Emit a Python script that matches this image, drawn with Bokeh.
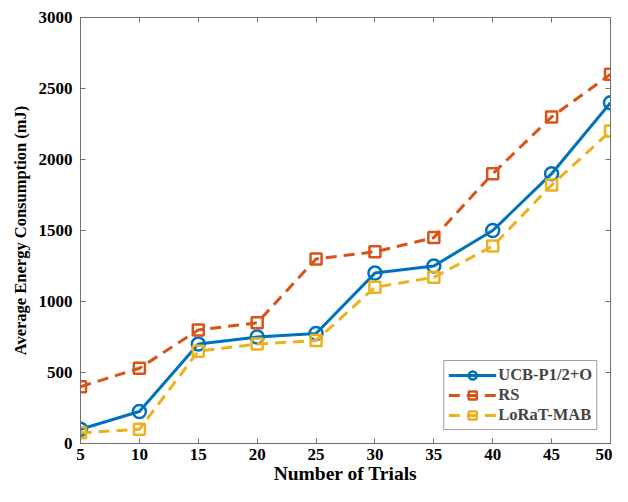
from bokeh.plotting import figure
from bokeh.models import LinearAxis, Range1d, FixedTicker
from bokeh.embed import file_html
from bokeh.resources import INLINE

trials = [5, 10, 15, 20, 25, 30, 35, 40, 45, 50]
ucb = [100, 225, 700, 750, 775, 1200, 1250, 1500, 1900, 2400]
rs = [400, 530, 800, 850, 1300, 1350, 1450, 1900, 2300, 2600]
lorat = [75, 100, 650, 700, 725, 1100, 1170, 1390, 1820, 2200]
x_ticks = [5, 10, 15, 20, 25, 30, 35, 40, 45, 50]
y_ticks = [0, 500, 1000, 1500, 2000, 2500, 3000]

BLUE = "#0072BD"
RED = "#D95319"
YEL = "#EDB120"
FONT = "Liberation Serif"
AXC = "#707070"

p = figure(width=612, height=486, output_backend="svg", toolbar_location=None,
           x_range=Range1d(5, 50), y_range=Range1d(0, 3000),
           min_border_left=80, min_border_right=2, min_border_top=17, min_border_bottom=37)
p.grid.visible = False
p.outline_line_color = AXC
p.outline_line_width = 1

for ax in [p.xaxis[0], p.yaxis[0]]:
    ax.major_tick_in = 5
    ax.major_tick_out = 0
    ax.minor_tick_line_color = None
    ax.axis_line_color = AXC
    ax.major_tick_line_color = AXC
    ax.major_label_text_font = FONT
    ax.major_label_text_font_style = "bold"
    ax.major_label_text_font_size = "17px"
    ax.major_label_text_color = "black"
    ax.axis_label_text_font = FONT
    ax.axis_label_text_font_style = "bold"
    ax.axis_label_text_color = "black"

p.xaxis[0].axis_label_text_font_size = "19.5px"
p.yaxis[0].axis_label_text_font_size = "16.5px"
p.xaxis[0].ticker = FixedTicker(ticks=x_ticks)
p.yaxis[0].ticker = FixedTicker(ticks=y_ticks)
p.xaxis[0].axis_label = "Number of Trials"
p.yaxis[0].axis_label = "Average Energy Consumption (mJ)"
p.xaxis[0].major_label_standoff = 5
p.yaxis[0].major_label_standoff = 8
p.xaxis[0].axis_label_standoff = 0
p.yaxis[0].axis_label_standoff = 6

top = LinearAxis(ticker=FixedTicker(ticks=x_ticks), major_tick_in=5, major_tick_out=0,
                 minor_tick_line_color=None, axis_line_color=AXC,
                 major_tick_line_color=AXC, major_label_text_font_size="0px",
                 major_label_standoff=0)
right = LinearAxis(ticker=FixedTicker(ticks=y_ticks), major_tick_in=5, major_tick_out=0,
                   minor_tick_line_color=None, axis_line_color=AXC,
                   major_tick_line_color=AXC, major_label_text_font_size="0px",
                   major_label_standoff=0)
p.add_layout(top, "above")
p.add_layout(right, "right")

p.line(trials, ucb, color=BLUE, line_width=3, legend_label="UCB-P1/2+O")
p.scatter(trials, ucb, marker="circle", size=13, line_color=BLUE, line_width=2.5,
          fill_color=None, legend_label="UCB-P1/2+O")
p.line(trials, rs, color=RED, line_width=3, line_dash="11 7", legend_label="RS")
p.scatter(trials, rs, marker="square", size=11, line_color=RED, line_width=2.5,
          fill_color=None, legend_label="RS")
p.line(trials, lorat, color=YEL, line_width=3, line_dash="11 7", legend_label="LoRaT-MAB")
p.scatter(trials, lorat, marker="square", size=11, line_color=YEL, line_width=2.5,
          fill_color=None, legend_label="LoRaT-MAB")

lg = p.legend[0]
lg.location = "bottom_right"
lg.margin = 13
lg.padding = 4
lg.spacing = 0
lg.border_line_color = "#404040"
lg.border_line_width = 1
lg.label_text_font = FONT
lg.label_text_font_style = "bold"
lg.label_text_font_size = "16.5px"
lg.glyph_width = 48
lg.glyph_height = 20
lg.label_standoff = 2
lg.label_height = 20

open("out.html", "w").write(file_html(p, INLINE))
